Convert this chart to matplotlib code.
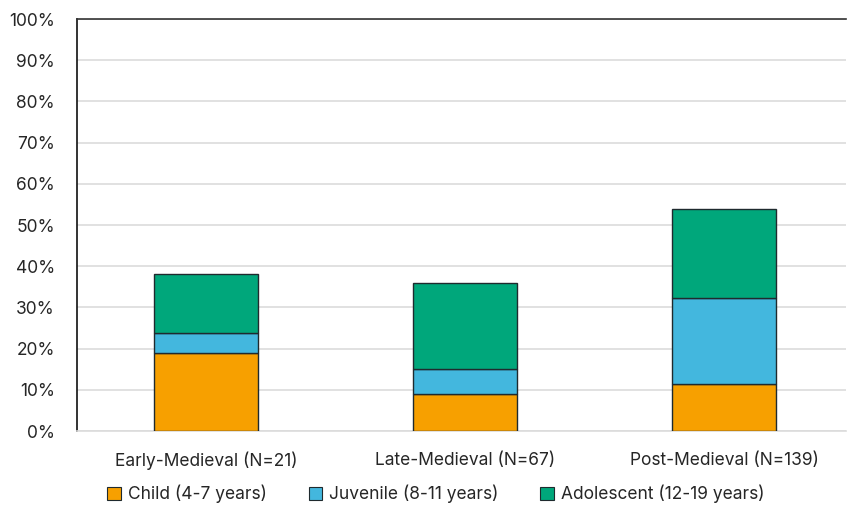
import matplotlib
matplotlib.use("Agg")
import matplotlib.pyplot as plt
from matplotlib.ticker import FuncFormatter, MultipleLocator
from matplotlib.patches import Patch

plt.rcParams['font.family'] = ['Inter', 'DejaVu Sans']

periods = ["Early-Medieval (N=21)", "Late-Medieval (N=67)", "Post-Medieval (N=139)"]
age_groups = ["Child (4-7 years)", "Juvenile (8-11 years)", "Adolescent (12-19 years)"]
child = [19.0, 9.0, 11.5]
juvenile = [4.8, 6.0, 20.7]
adolescent = [14.3, 20.9, 21.6]
colors = ["#F7A000", "#43B7DE", "#00A77B"]

W, H = 847, 505
fig = plt.figure(figsize=(W / 100, H / 100), dpi=100)
ax = fig.add_axes([77 / W, 1 - 431 / H, (846 - 77) / W, (431 - 19) / H])

x = list(range(len(periods)))
bottom = [0.0] * len(periods)
for vals, col in zip([child, juvenile, adolescent], colors):
    ax.bar(x, vals, width=0.4, bottom=bottom, color=col,
           edgecolor="#1f2a2e", linewidth=1.0, zorder=3)
    bottom = [b + v for b, v in zip(bottom, vals)]

ax.set_ylim(0, 100)
ax.set_xlim((77 - 206) / 259, (846 - 206) / 259)
ax.yaxis.set_major_locator(MultipleLocator(10))
ax.yaxis.set_major_formatter(FuncFormatter(lambda v, p: f"{v:.0f}%"))
ax.set_xticks(x)
ax.set_xticklabels(periods)
ax.grid(axis="y", color="#dcdcdc", linewidth=1.2, zorder=0)
ax.tick_params(axis="both", length=0, labelsize=12.5, colors="#262626")
ax.tick_params(axis="x", pad=15)
ax.tick_params(axis="y", pad=16)

ax.spines["left"].set_color("#111111")
ax.spines["left"].set_linewidth(1.2)
ax.spines["top"].set_color("#333333")
ax.spines["top"].set_linewidth(1.2)
ax.spines["right"].set_visible(False)
ax.spines["bottom"].set_color("#dcdcdc")
ax.spines["bottom"].set_linewidth(1.2)

handles = [Patch(facecolor=c, edgecolor="#1f2a2e", linewidth=0.8) for c in colors]
fig.legend(handles, age_groups, loc="center", bbox_to_anchor=(436 / W, 1 - 494 / H),
           ncol=3, frameon=False, fontsize=12.5, handlelength=0.8, handleheight=0.8,
           handletextpad=0.4, columnspacing=2.4, labelcolor="#262626")

fig.savefig("out.png", dpi=100)
